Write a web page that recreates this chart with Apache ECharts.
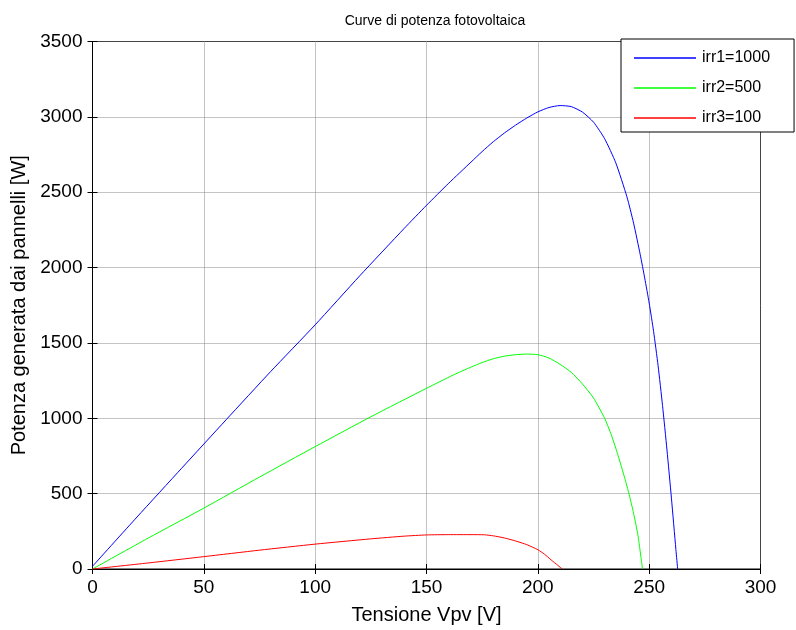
<!DOCTYPE html>
<html>
<head>
<meta charset="utf-8">
<script src="https://cdn.jsdelivr.net/npm/echarts@6/dist/echarts.min.js"></script>
<style>html,body{margin:0;padding:0;background:#fff;}#c{width:796px;height:630px;}</style>
</head>
<body>
<div id="c"></div>
<script>
const titleText = "Curve di potenza fotovoltaica";
const xName = "Tensione Vpv [V]";
const yName = "Potenza generata dai pannelli [W]";
const seriesNames = ["irr1=1000", "irr2=500", "irr3=100"];

const v1 = [0, 20, 40, 60, 80, 100, 120, 140, 150, 160, 170, 175, 180, 185, 190, 195, 200, 205, 210, 215, 220, 225, 230, 235, 240, 243, 246, 248, 250, 252, 254, 256, 258, 260, 262, 262.8];
const p1 = [18, 345, 668, 990, 1310, 1620, 1945, 2260, 2413, 2560, 2700, 2770, 2835, 2893, 2945, 2992, 3033, 3062, 3075, 3068, 3032, 2965, 2855, 2695, 2470, 2295, 2085, 1930, 1765, 1575, 1350, 1085, 790, 470, 130, 0];

const v2 = [0, 25, 50, 75, 100, 125, 150, 162, 170, 175, 180, 185, 190, 195, 200, 205, 210, 215, 220, 225, 230, 233, 236, 239, 241, 243, 245, 247];
const p2 = [0, 205, 404, 610, 812, 1010, 1199, 1287, 1340, 1370, 1395, 1412, 1422, 1426, 1422, 1400, 1358, 1305, 1228, 1135, 1000, 890, 755, 605, 495, 370, 220, 0];

const v3 = [0, 25, 50, 75, 100, 125, 140, 150, 160, 170, 176, 180, 185, 190, 195, 200, 203, 206, 209, 211];
const p3 = [0, 40, 82, 125, 165, 200, 218, 226, 228, 228, 227, 220, 206, 186, 162, 128, 98, 60, 24, 0];

const colors = ["#0000ff", "#00ff00", "#ff0000"];

function pairs(xs, ys) { return xs.map((x, i) => [x, ys[i]]); }

const font = "Liberation Sans, Arial, Helvetica, sans-serif";
const chart = echarts.init(document.getElementById('c'));

const tickCommon = { show: true, inside: true, length: 5, lineStyle: { color: '#000', width: 1 } };
const gridLine = { show: true, lineStyle: { color: '#888', type: [1, 1], width: 1 } };

chart.setOption({
  backgroundColor: '#fff',
  animation: false,
  title: {
    text: titleText, left: 430, top: 9, textAlign: 'center',
    textStyle: { fontFamily: font, fontSize: 14, fontWeight: 'normal', color: '#000' }
  },
  grid: {
    left: 92.5, right: 35.5, top: 41.5, bottom: 60.5,
    show: true, borderColor: '#000', borderWidth: 1, backgroundColor: '#fff'
  },
  legend: {
    data: seriesNames, orient: 'vertical', left: 621, top: 39,
    backgroundColor: '#fff', borderColor: '#000', borderWidth: 1,
    padding: [11, 24, 6, 13], itemGap: 14, itemWidth: 62, itemHeight: 1.5,
    icon: 'rect',
    textStyle: { fontFamily: font, fontSize: 16, color: '#000', padding: [0, 0, 0, 1] }
  },
  xAxis: [{
    type: 'value', min: 0, max: 300, interval: 50, position: 'bottom',
    name: xName, nameLocation: 'middle', nameGap: 36,
    nameTextStyle: { fontFamily: font, fontSize: 20, color: '#000' },
    axisLine: { show: true, lineStyle: { color: '#000' } },
    axisTick: tickCommon,
    axisLabel: { fontFamily: font, fontSize: 19, color: '#000', margin: 9 },
    splitLine: gridLine
  }, {
    type: 'value', min: 0, max: 300, interval: 50, position: 'top',
    axisLine: { show: true, lineStyle: { color: '#000' } },
    axisTick: tickCommon, axisLabel: { show: false }, splitLine: { show: false }
  }],
  yAxis: [{
    type: 'value', min: 0, max: 3500, interval: 500, position: 'left',
    name: yName, nameLocation: 'middle', nameGap: 62, nameRotate: 90,
    nameTextStyle: { fontFamily: font, fontSize: 20, color: '#000' },
    axisLine: { show: true, lineStyle: { color: '#000' } },
    axisTick: tickCommon,
    axisLabel: { fontFamily: font, fontSize: 19, color: '#000', margin: 10, formatter: function (v) { return String(v); } },
    splitLine: gridLine
  }, {
    type: 'value', min: 0, max: 3500, interval: 500, position: 'right',
    axisLine: { show: true, lineStyle: { color: '#000' } },
    axisTick: tickCommon, axisLabel: { show: false }, splitLine: { show: false }
  }],
  series: [
    { name: seriesNames[0], type: 'line', data: pairs(v1, p1), smooth: 0.2, symbol: 'none', color: colors[0], lineStyle: { width: 1, color: colors[0] } },
    { name: seriesNames[1], type: 'line', data: pairs(v2, p2), smooth: 0.2, symbol: 'none', color: colors[1], lineStyle: { width: 1, color: colors[1] } },
    { name: seriesNames[2], type: 'line', data: pairs(v3, p3), smooth: 0.2, symbol: 'none', color: colors[2], lineStyle: { width: 1, color: colors[2] } }
  ]
});
</script>
</body>
</html>
